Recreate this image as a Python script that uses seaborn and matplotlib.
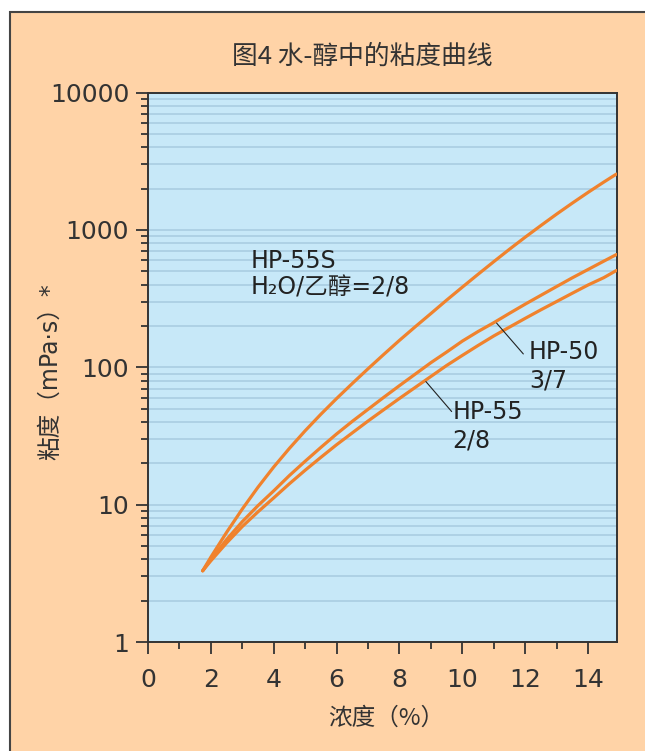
import numpy as np
import pandas as pd
import matplotlib
matplotlib.use("Agg")
import matplotlib.pyplot as plt
from matplotlib.patches import Rectangle
from matplotlib.ticker import FixedLocator, NullFormatter
import seaborn as sns

# ---- data ----
conc = [1.74, 2.0, 2.5, 3.0, 3.5, 4.0, 4.5, 5.0, 5.5, 6.0, 6.5, 7.0, 7.5, 8.0,
        8.5, 9.0, 9.5, 10.0, 10.5, 11.0, 11.5, 12.0, 12.5, 13.0, 13.5, 14.0, 14.5, 14.9]
hp55s = [3.30, 4.15, 6.28, 9.29, 13.4, 18.8, 25.7, 34.5, 45.5, 59.2, 76.2, 97.5, 124, 157,
         197, 246, 308, 383, 475, 587, 723, 885, 1076, 1303, 1567, 1875, 2228, 2547]
hp50 = [3.30, 3.99, 5.57, 7.52, 9.84, 12.6, 16.3, 20.7, 26.1, 32.7, 40.4, 49.4, 60.4, 73.5,
        89.1, 108, 129, 155, 182, 211, 247, 288, 334, 387, 448, 515, 592, 661]
hp55 = [3.30, 3.90, 5.26, 6.93, 8.87, 11.2, 14.2, 17.8, 22.1, 27.3, 33.3, 40.6, 49.1, 59.3,
        71.3, 85.7, 103, 122, 144, 169, 196, 227, 262, 301, 346, 397, 449, 506]
series_names = ["HP-55S", "HP-50", "HP-55"]

x_ticks = [0, 2, 4, 6, 8, 10, 12, 14]
x_minor = [1, 3, 5, 7, 9, 11, 13]
y_ticks = [1, 10, 100, 1000, 10000]
y_tick_labels = ["1", "10", "100", "1000", "10000"]

title = "图4 水-醇中的粘度曲线"
xlabel = "浓度（%）"
ylabel = "粘度（mPa·s）*"

df = pd.DataFrame({
    "conc": conc * 3,
    "visc": hp55s + hp50 + hp55,
    "series": sum([[n] * len(conc) for n in series_names], []),
})

# ---- style ----
sns.set_style("ticks")
plt.rcParams["font.family"] = ["DejaVu Sans", "Noto Sans CJK SC"]
cjk = ["Noto Sans CJK SC", "DejaVu Sans"]
mixed = ["DejaVu Sans", "Noto Sans CJK SC"]

PEACH = "#FFD3A7"
BLUE = "#C7E8F8"
ORANGE = "#F0822D"
GRID = "#A7CBE0"
DARK = "#333333"

fig = plt.figure(figsize=(6.45, 7.51), dpi=100)
fig.patch.set_facecolor("white")
bg = Rectangle((10 / 645, -0.2), 1.2, 1 - 12 / 751 + 0.2,
               transform=fig.transFigure, facecolor=PEACH,
               edgecolor="#444444", linewidth=1.5, zorder=-10)
fig.patches.append(bg)

ax = fig.add_axes([148 / 645, 1 - 642 / 751, (617 - 148) / 645, (642 - 92.5) / 751])
ax.set_zorder(1)
ax.set_facecolor(BLUE)

sns.lineplot(data=df, x="conc", y="visc", hue="series", palette=[ORANGE] * 3,
             legend=False, ax=ax, linewidth=2.3, estimator=None, sort=True, zorder=3)

ax.set_yscale("log")
ax.set_xlim(0, 14.92)
ax.set_ylim(1, 10000)

ax.set_xticks(x_ticks)
ax.set_xticklabels([str(t) for t in x_ticks])
ax.xaxis.set_minor_locator(FixedLocator(x_minor))
ax.set_yticks(y_ticks)
ax.set_yticklabels(y_tick_labels)
y_minor = [m * 10 ** d for d in range(4) for m in range(2, 10)]
ax.yaxis.set_minor_locator(FixedLocator(y_minor))
ax.yaxis.set_minor_formatter(NullFormatter())

for v in y_minor + y_ticks:
    ax.axhline(v, color=GRID, linewidth=1.1, zorder=1)

ax.tick_params(axis="both", which="major", direction="out", length=8.5, width=1.3,
               color=DARK, labelcolor=DARK, labelsize=18, pad=5)
ax.tick_params(axis="both", which="minor", direction="out", length=5, width=1.3, color=DARK)
ax.tick_params(axis="x", which="major", pad=10)

for s in ax.spines.values():
    s.set_color(DARK)
    s.set_linewidth(1.4)
    s.set_visible(True)

ax.set_xlabel(xlabel, fontsize=17, family=cjk, color=DARK)
ax.xaxis.label.set_va("center")
ax.xaxis.set_label_coords((386 - 148) / 469, (642 - 718) / 549.5)
ax.set_ylabel(ylabel, fontsize=17, family=mixed, color=DARK)
ax.yaxis.label.set_va("center")
ax.yaxis.set_label_coords((50 - 148) / 469, (642 - 372) / 549.5)

t = ax.set_title(title, fontsize=18.5, family=cjk, color=DARK,
                 x=(362 - 148) / 469, y=(642 - 57) / 549.5, pad=0)
t.set_va("center")

# annotations
ann_kw = dict(fontsize=17, color="#222222", va="center", ha="left", zorder=5)
ax.text(3.28, 596, "HP-55S", **ann_kw)
ax.text(3.28, 379, "H₂O/乙醇=2/8", family=mixed, **ann_kw)
ax.text(12.12, 130, "HP-50", **ann_kw)
ax.text(12.12, 80, "3/7", **ann_kw)
ax.text(9.69, 47.3, "HP-55", **ann_kw)
ax.text(9.69, 29.5, "2/8", **ann_kw)
ax.plot([11.09, 11.94], [209.5, 125], color="#222222", linewidth=0.8, zorder=4)
ax.plot([8.84, 9.66], [78.7, 47.6], color="#222222", linewidth=0.8, zorder=4)

fig.savefig("out.png", dpi=100, facecolor=fig.get_facecolor())
